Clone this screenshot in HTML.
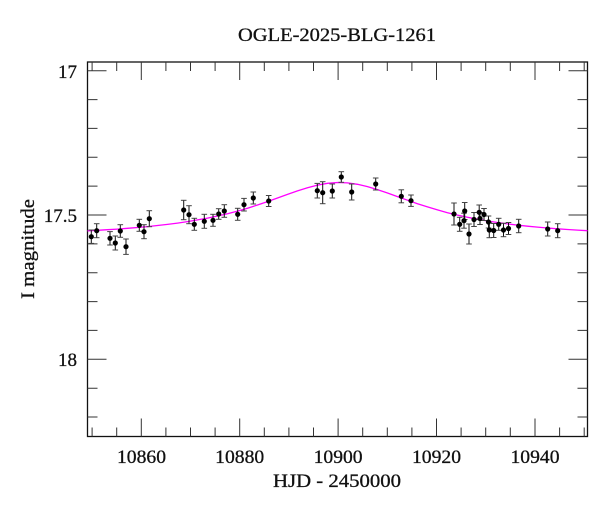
<!DOCTYPE html>
<html>
<head>
<meta charset="utf-8">
<style>
html,body{margin:0;padding:0;background:#fff;}
svg{display:block;}
text{font-family:"Liberation Serif",serif;fill:#111;stroke:#111;stroke-width:0.3;}
</style>
</head>
<body>
<svg width="600" height="512" viewBox="0 0 600 512" xmlns="http://www.w3.org/2000/svg">
<defs>
<marker id="cap" markerUnits="userSpaceOnUse" markerWidth="8" markerHeight="4" refX="0" refY="0" orient="0" overflow="visible">
<path d="M-2.8 0H2.8" stroke="#444" stroke-width="1"/>
</marker>
</defs>
<rect x="0" y="0" width="600" height="512" fill="#fff"/>
<text x="337" y="41" font-size="19" text-anchor="middle" textLength="198" lengthAdjust="spacingAndGlyphs">OGLE-2025-BLG-1261</text>
<rect x="87.5" y="62" width="500" height="374.5" fill="none" stroke="#111" stroke-width="1.3"/>
<g stroke="#333" stroke-width="1">
<path d="M141.3 436.5v-18M239.7 436.5v-18M338.1 436.5v-18M436.5 436.5v-18M535 436.5v-18M141.3 62v18M239.7 62v18M338.1 62v18M436.5 62v18M535 62v18"/>
<path d="M92.1 436.5v-9M116.7 436.5v-9M165.9 436.5v-9M190.5 436.5v-9M215.1 436.5v-9M264.3 436.5v-9M288.9 436.5v-9M313.5 436.5v-9M362.7 436.5v-9M387.3 436.5v-9M411.9 436.5v-9M461.1 436.5v-9M485.7 436.5v-9M510.3 436.5v-9M559.6 436.5v-9M584.2 436.5v-9M92.1 62v9M116.7 62v9M165.9 62v9M190.5 62v9M215.1 62v9M264.3 62v9M288.9 62v9M313.5 62v9M362.7 62v9M387.3 62v9M411.9 62v9M461.1 62v9M485.7 62v9M510.3 62v9M559.6 62v9M584.2 62v9"/>
<path d="M87.5 70.7h19M87.5 215h19M87.5 359.3h19M587.5 70.7h-19M587.5 215h-19M587.5 359.3h-19"/>
<path d="M87.5 99.6h10M87.5 128.4h10M87.5 157.3h10M87.5 186.1h10M87.5 243.9h10M87.5 272.7h10M87.5 301.6h10M87.5 330.4h10M87.5 388.2h10M87.5 417h10M587.5 99.6h-10M587.5 128.4h-10M587.5 157.3h-10M587.5 186.1h-10M587.5 243.9h-10M587.5 272.7h-10M587.5 301.6h-10M587.5 330.4h-10M587.5 388.2h-10M587.5 417h-10"/>
</g>
<g font-size="19" text-anchor="middle">
<text x="141.5" y="463" textLength="49" lengthAdjust="spacingAndGlyphs">10860</text>
<text x="239.7" y="463" textLength="49" lengthAdjust="spacingAndGlyphs">10880</text>
<text x="338.1" y="463" textLength="49" lengthAdjust="spacingAndGlyphs">10900</text>
<text x="436.5" y="463" textLength="49" lengthAdjust="spacingAndGlyphs">10920</text>
<text x="535" y="463" textLength="49" lengthAdjust="spacingAndGlyphs">10940</text>
</g>
<g font-size="19" text-anchor="end">
<text x="77" y="78">17</text>
<text x="77" y="222">17.5</text>
<text x="77" y="366">18</text>
</g>
<text x="337" y="487" font-size="19" text-anchor="middle" textLength="128" lengthAdjust="spacingAndGlyphs">HJD - 2450000</text>
<text transform="translate(34,249) rotate(-90)" font-size="19" text-anchor="middle" textLength="100" lengthAdjust="spacingAndGlyphs">I magnitude</text>
<polyline fill="none" stroke="#ff00ff" stroke-width="1.3" points="87.5,230.9 97.5,230.3 107.5,229.7 117.5,229.1 127.5,228.3 137.5,227.5 147.5,226.6 157.5,225.5 167.5,224.4 177.5,223.1 187.5,221.6 197.5,219.9 207.5,218.1 217.5,216 227.5,213.7 237.5,211.1 247.5,208.2 257.5,205 267.5,201.6 277.5,198 287.5,194.4 297.5,190.9 307.5,187.7 317.5,185.1 327.5,183.3 337.5,182.5 347.5,182.9 357.5,184.3 367.5,186.6 377.5,189.6 387.5,193 397.5,196.6 407.5,200.2 417.5,203.7 427.5,206.9 437.5,209.9 447.5,212.7 457.5,215.1 467.5,217.3 477.5,219.2 487.5,221 497.5,222.5 507.5,223.9 517.5,225.1 527.5,226.2 537.5,227.1 547.5,228 557.5,228.8 567.5,229.5 577.5,230.1 587.5,230.7"/>
<path fill="none" stroke="#111" stroke-width="1" marker-start="url(#cap)" marker-mid="url(#cap)" marker-end="url(#cap)" d="M91.3 230V243.4M96.7 223.7V237.7M110 231.6V245M115.3 236V250M120.3 224.7V237.3M126 239V254.4M139.3 219.3V231.3M144 224.7V238.7M149.3 210.7V226.7M183.7 200.3V219.7M189 205.7V223.7M194.3 218.3V230.3M204.3 214.3V228.3M213 214.3V226.3M218.7 208.7V219.3M224.3 204.7V217.3M237.7 208.3V220.3M244 198.4V211M253.3 192V204M268.7 195.5V206.5M317.3 183.4V198M322.7 181.7V203.7M332.3 184V198M341.3 171.7V182.3M351.7 184V200M375.7 178V190M401.3 189.8V202.8M411 195V206.4M454 203V225M459.7 217.3V231.3M464 213.2V228.2M464.7 202.5V219.5M469 224V244M474 212.5V226.5M479.2 205V219.6M480 212.5V224.5M484 208.5V220.5M488.5 216V228M489.3 222.3V237.7M493.7 223.5V237.5M498.7 218.3V230.3M503.5 223.3V236.7M508.5 222.5V234.5M518.7 219.3V232.7M547.7 222V236M557.7 223.7V237.7"/>
<path fill="none" stroke="#000" stroke-width="5.2" stroke-linecap="round" d="M91.3 236.7h0M96.7 230.7h0M110 238.3h0M115.3 243h0M120.3 231h0M126 246.7h0M139.3 225.3h0M144 231.7h0M149.3 218.7h0M183.7 210h0M189 214.7h0M194.3 224.3h0M204.3 221.3h0M213 220.3h0M218.7 214h0M224.3 211h0M237.7 214.3h0M244 204.7h0M253.3 198h0M268.7 201h0M317.3 190.7h0M322.7 192.7h0M332.3 191h0M341.3 177h0M351.7 192h0M375.7 184h0M401.3 196.3h0M411 200.7h0M454 214h0M459.7 224.3h0M464 220.7h0M464.7 211h0M469 234h0M474 219.5h0M479.2 212.3h0M480 218.5h0M484 214.5h0M488.5 222h0M489.3 230h0M493.7 230.5h0M498.7 224.3h0M503.5 230h0M508.5 228.5h0M518.7 226h0M547.7 229h0M557.7 230.7h0"/>
</svg>
</body>
</html>
